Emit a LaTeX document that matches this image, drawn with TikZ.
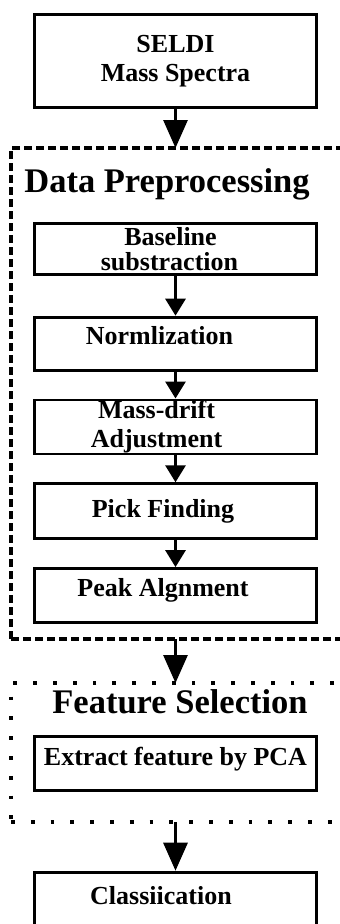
\documentclass[tikz,border=0pt]{standalone}
\usepackage{fontspec}
\setmainfont{Liberation Serif}
\usetikzlibrary{positioning, arrows.meta}
\newcommand{\stagetitle}[1]{{\bfseries\fontsize{34.5}{38}\selectfont #1}}

\begin{document}
\begin{tikzpicture}[
    x=1pt, y=1pt,
    box/.style={
        rectangle,
        draw,
        line width=2.8pt,
        minimum width=282pt,
        minimum height=54pt,
        inner sep=0pt,
        align=center,
        font=\bfseries\fontsize{26}{29}\selectfont
    },
    dashframe/.style={
        rectangle,
        draw,
        line width=3.3pt,
        dash pattern=on 8pt off 4pt,
        minimum width=389pt,
        inner sep=0pt,
        outer sep=0pt
    },
    dotframe/.style={
        rectangle,
        draw,
        line width=3.8pt,
        dash pattern=on 3.8pt off 16pt,
        minimum width=389pt,
        inner sep=0pt,
        outer sep=0pt
    },
    flow/.style={line width=3pt, -{Triangle[length=17pt, width=20pt]}},
    bigflow/.style={line width=3pt, -{Triangle[length=28pt, width=24pt]}}
]

    \useasboundingbox (0,0) rectangle (340,-924);
    \clip (0,0) rectangle (340,-924);

    % --- 1) Input spectra ---
    \node[box, minimum height=93pt] (seldi) at (175.5,-61) {SELDI\\Mass Spectra};

    % --- 2) Preprocessing steps ---
    \node[box, minimum height=51pt, below=113pt of seldi] (base) {Baseline\kern10pt\\[-4pt]substraction\kern12pt};
    \node[box, minimum height=53pt, text depth=16pt, below=40pt of base] (norm) {Normlization\kern32pt};
    \node[box, below=27pt of norm] (drift) {Mass-drift\kern38pt\\Adjustment\kern38pt};
    \node[box, minimum height=55pt, below=27pt of drift] (pick) {Pick Finding\kern25pt};
    \node[box, text depth=17pt, below=27pt of pick] (peak) {Peak Algnment\kern25pt};

    % --- 3) Feature selection ---
    \node[box, text depth=13pt, below=111pt of peak] (pca) {Extract feature by PCA};

    % --- 4) Classification ---
    \node[box, text depth=8pt, below=79pt of pca] (clf) {Classiication\kern29pt};

    % --- Stage frames (open to the right) ---
    \node[dashframe, minimum height=491pt] (prep) at (205.5,-393.5) {};
    \node[dotframe, minimum height=139pt] (feat) at (205.5,-752.5) {};

    \node[anchor=base] (preptitle) at (167,-192) {\stagetitle{Data Preprocessing}};
    \node[anchor=base] (feattitle) at (180,-713) {\stagetitle{Feature Selection}};

    % --- Arrows ---
    \draw[bigflow] (seldi) -- (seldi |- prep.north);
    \draw[flow] (base) -- (norm);
    \draw[flow] (norm) -- (drift);
    \draw[flow] (drift) -- (pick);
    \draw[flow] (pick) -- (peak);
    \draw[bigflow] (prep.south -| peak) -- (feat.north -| peak);
    \draw[bigflow] (feat.south -| pca) -- (clf);

\end{tikzpicture}
\end{document}
